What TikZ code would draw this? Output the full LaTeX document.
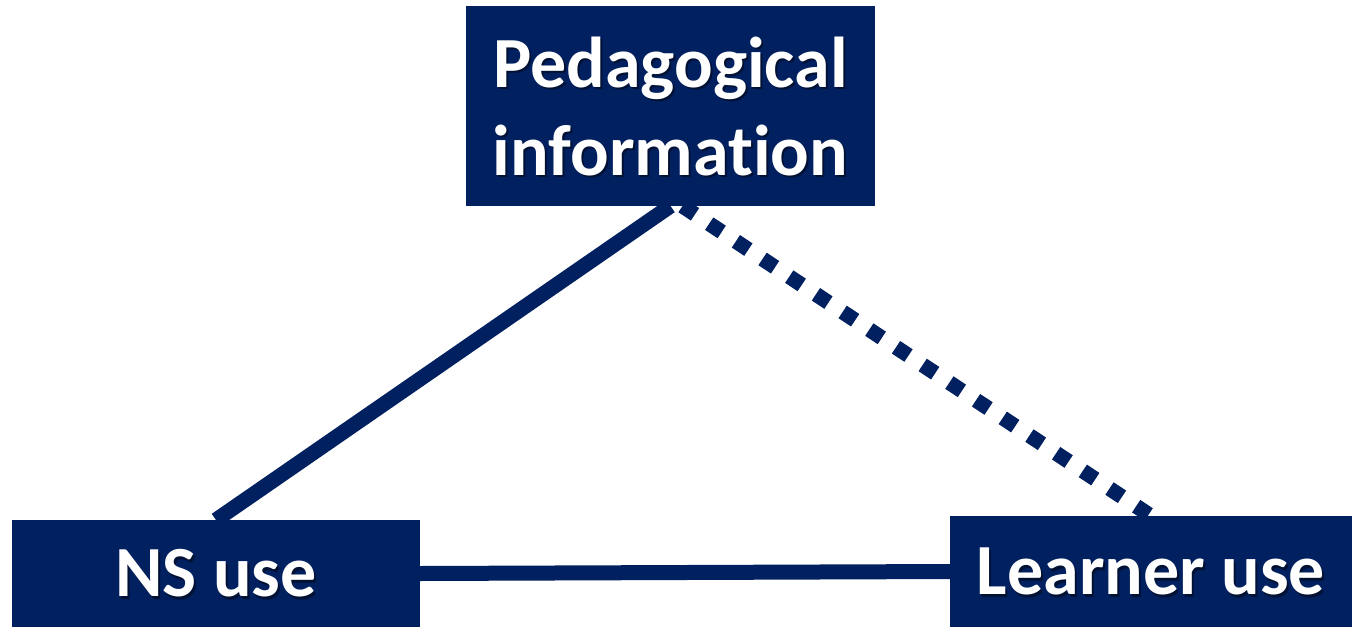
\documentclass[tikz,border=0pt]{standalone}
\usepackage{fontspec}
\setmainfont{Carlito}[Ligatures=NoCommon]
\usetikzlibrary{backgrounds}
\definecolor{navy}{HTML}{002060}
\tikzset{
  box/.style={fill=navy, draw=none, inner sep=0pt, outer sep=0pt},
  txt/.style={text=white, font=\bfseries\fontsize{72}{88}\selectfont, align=center, inner sep=0pt},
  shadowtxt/.style={txt, text=black, text opacity=0.45},
  link/.style={draw=navy, line width=15pt},
  dotlink/.style={link, dash pattern=on 15pt off 17pt}
}
\begin{document}
\begin{tikzpicture}[x=1pt,y=-1pt]
\useasboundingbox (0,0) rectangle (1352,627);
\node[box, minimum width=409pt, minimum height=200pt] (top) at (670.5,106) {};
\node[box, minimum width=408pt, minimum height=107pt] (ns) at (216,573.5) {};
\node[box, minimum width=402pt, minimum height=111pt] (lu) at (1151,571.5) {};
\node[shadowtxt] at ([shift={(2pt,-2.5pt)}]top.center) {Pedagogical\\information};
\node[txt] (toptxt) at (top.center) {Pedagogical\\information};
\node[shadowtxt] at ([shift={(2pt,-2.5pt)}]ns.center) {NS use};
\node[txt] (nstxt) at (ns.center) {NS use};
\node[shadowtxt] at ([shift={(2pt,-2.5pt)}]lu.center) {Learner use};
\node[txt] (lutxt) at (lu.center) {Learner use};
\begin{scope}[on background layer]
\draw[link] (top.south) -- (ns.north);
\draw[dotlink] ([xshift=12pt]top.south) -- (lu.north);
\draw[link] (ns.east) -- (lu.west);
\end{scope}
\end{tikzpicture}
\end{document}
